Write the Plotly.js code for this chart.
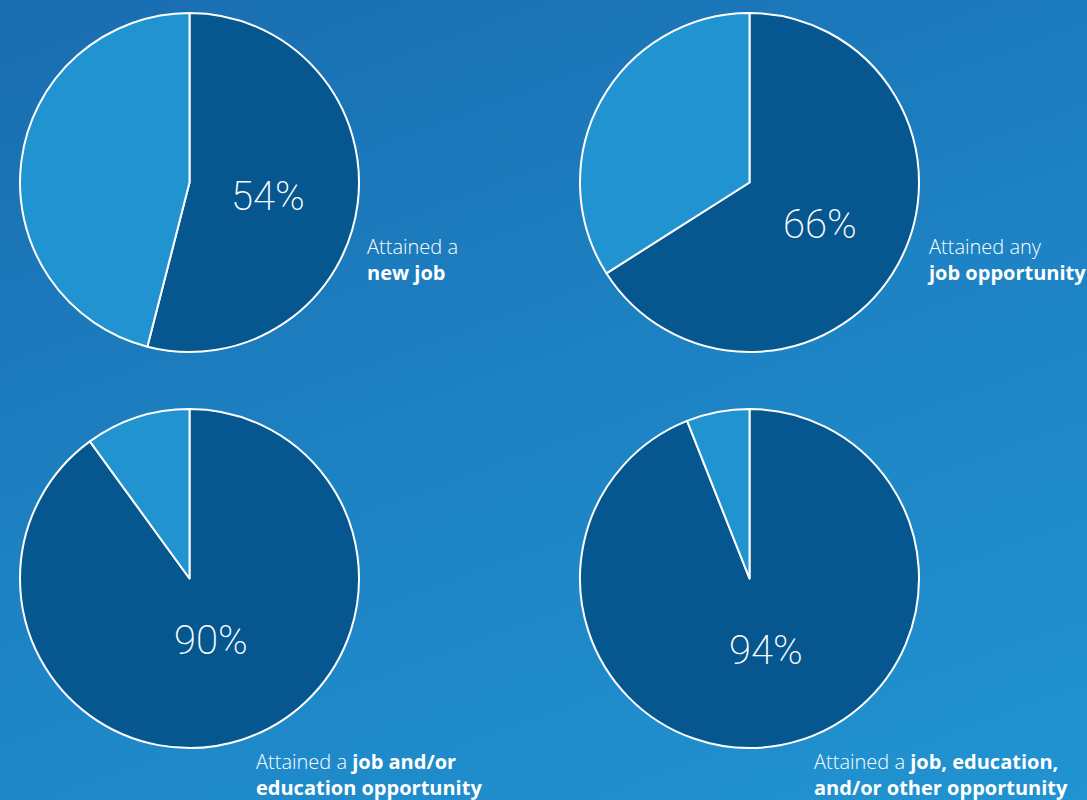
<!DOCTYPE html>
<html>
<head>
<meta charset="utf-8">
<script src="https://cdn.plot.ly/plotly-3.0.1.min.js"></script>
<style>
  html, body { margin: 0; padding: 0; width: 1087px; height: 800px; overflow: hidden;
    background: linear-gradient(160deg, #196db0 0%, #1d82c3 50%, #2193d1 100%); }
  #chart { width: 1087px; height: 800px; }
</style>
</head>
<body>
<div id="chart"></div>
<script>
// Data
const attainedPct = [54, 66, 90, 94];
const sliceNames = ["Attained", "Not attained"];
const captionLight = ["Attained a", "Attained any", "Attained a", "Attained a"];
const captionBold = ["new job", "job opportunity", "job and/or", "job, education,"];
const captionTail = ["", "", "education opportunity", "and/or other opportunity"];

// Styling / layout (not data)
const W = 1087, H = 800;
const darkBlue = "#06578f";
const lightBlue = "#2193d0";
const pieBoxes = [ // pixel boxes [left, right, top, bottom]
  [20, 359, 13, 352],
  [580, 919, 13, 352],
  [20, 359, 409, 748],
  [580, 919, 409, 748]
];
const pctPos = [[268, 197], [820, 224], [211, 640], [766, 650]];
const capPos = [[365, 260], [925, 260], [254, 774], [812, 774]];

const px = x => x / W;
const py = y => 1 - y / H;

const traces = attainedPct.map((v, i) => ({
  type: "pie",
  values: [v, 100 - v],
  labels: sliceNames,
  sort: false,
  direction: "clockwise",
  rotation: 0,
  textinfo: "none",
  hoverinfo: "skip",
  marker: { colors: [darkBlue, lightBlue], line: { color: "#ffffff", width: 2 } },
  domain: {
    x: [px(pieBoxes[i][0]), px(pieBoxes[i][1])],
    y: [py(pieBoxes[i][3]), py(pieBoxes[i][2])]
  },
  showlegend: false
}));

const annotations = [];
attainedPct.forEach((v, i) => {
  annotations.push({
    xref: "paper", yref: "paper",
    x: px(pctPos[i][0]), y: py(pctPos[i][1]),
    xanchor: "center", yanchor: "middle",
    text: v + "%",
    showarrow: false,
    font: { family: "Roboto, 'Open Sans', sans-serif", size: 40, color: "#ffffff", weight: 200 }
  });
  let txt = captionLight[i] + (i >= 2 ? " " : "<br>") + "<b>" + captionBold[i] + "</b>";
  if (captionTail[i]) txt += "<br><b>" + captionTail[i] + "</b>";
  annotations.push({
    xref: "paper", yref: "paper",
    x: px(capPos[i][0]), y: py(capPos[i][1]),
    xanchor: "left", yanchor: "middle",
    align: "left",
    text: txt,
    showarrow: false,
    font: { family: "'Open Sans', Roboto, sans-serif", size: 20, color: "#ffffff", weight: 300 }
  });
});

Plotly.newPlot("chart", traces, {
  width: W, height: H,
  margin: { l: 0, r: 0, t: 0, b: 0 },
  paper_bgcolor: "rgba(0,0,0,0)",
  plot_bgcolor: "rgba(0,0,0,0)",
  annotations: annotations
}, { displayModeBar: false, staticPlot: true });
</script>
</body>
</html>
